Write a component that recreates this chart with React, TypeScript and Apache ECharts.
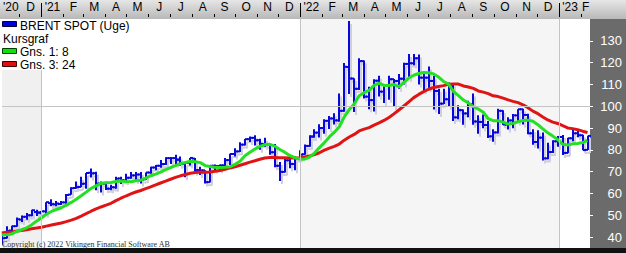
import React, { useEffect, useRef } from "react";
import * as echarts from "echarts";

// Weekly Brent spot bars, one per week (Friday dates), first week ending 2020-11-06
const firstWeek = "2020-11-06";
const open = [
  37.9, 39.6, 43.0, 45.0, 48.0, 49.3, 50.0, 51.5,
  51.2, 51.8, 55.6, 55.0, 55.2, 55.9, 59.5, 62.5, 63.0, 64.5, 69.5, 69.3, 64.5, 64.5, 62.2, 62.8, 66.9, 66.0,
  67.2, 68.3, 68.7, 66.5, 69.6, 71.9, 72.7, 73.5, 76.2, 76.2, 75.5, 73.5, 74.1, 76.0, 70.7, 70.6, 65.2, 72.7,
  72.6, 72.9, 75.3, 78.1, 79.3, 82.4, 84.9, 85.5, 84.4, 82.7, 82.2, 78.9, 72.7, 69.9, 75.2, 73.5, 76.1,
  78.0, 81.8, 86.1, 87.9, 90.0, 93.3, 94.4, 93.5, 97.9, 118.0, 112.7, 108.0, 120.7, 104.4, 102.8, 111.7, 106.7,
  109.3, 112.4, 111.6, 112.6, 119.4, 119.7, 122.0, 113.1, 113.1, 111.6, 107.0, 101.2, 103.2, 110.0, 94.9, 98.2,
  96.7, 100.9, 93.0, 92.8, 91.4, 86.2, 88.0, 97.9, 91.6, 93.5, 95.8, 98.6, 96.0, 87.6, 83.6, 85.6, 76.1, 79.0, 83.9,
  85.9, 78.6, 85.3, 87.6, 86.7, 80.0,
];
const high = [
  41.9, 45.0, 45.2, 49.0, 49.9, 51.0, 52.5, 52.5,
  52.0, 56.0, 57.4, 56.5, 56.6, 59.8, 62.8, 65.5, 67.7, 69.4, 71.4, 70.0, 65.5, 65.4, 64.0, 67.7, 67.7, 69.0,
  69.8, 69.8, 69.8, 69.6, 72.3, 73.1, 75.3, 76.6, 76.6, 77.8, 77.0, 74.1, 76.3, 76.3, 72.3, 70.6, 72.7, 73.3,
  73.3, 76.3, 78.2, 80.7, 83.5, 85.0, 86.1, 86.7, 85.1, 85.5, 82.9, 82.7, 74.4, 76.0, 75.9, 76.9, 79.8,
  82.5, 86.7, 89.5, 91.7, 94.0, 95.5, 96.8, 105.8, 119.8, 139.1, 112.8, 122.0, 121.0, 108.9, 112.4, 114.0, 109.5,
  114.0, 112.5, 114.8, 119.9, 124.0, 124.0, 123.7, 115.0, 118.2, 114.0, 108.0, 108.0, 110.9, 110.5, 100.5, 98.5,
  102.5, 105.8, 95.9, 96.2, 93.2, 89.4, 98.8, 98.2, 95.0, 96.4, 98.6, 98.8, 96.5, 89.5, 89.0, 88.0, 83.3, 84.4, 86.4,
  86.8, 85.5, 89.1, 89.1, 86.9, 86.5,
];
const low = [
  36.6, 39.3, 42.6, 44.8, 46.9, 48.0, 49.6, 49.7,
  50.5, 50.4, 54.3, 54.2, 54.7, 55.3, 59.4, 62.2, 62.9, 62.2, 67.3, 61.5, 60.5, 61.6, 61.5, 62.2, 64.4, 65.2,
  66.8, 65.7, 64.6, 66.2, 69.1, 70.6, 71.8, 73.0, 73.5, 73.3, 72.7, 67.4, 72.8, 69.5, 68.5, 64.6, 65.0, 70.5,
  70.6, 72.1, 73.1, 76.9, 79.0, 82.0, 83.6, 82.0, 80.1, 81.4, 77.8, 72.0, 65.7, 69.6, 71.6, 70.7, 75.9,
  77.7, 81.4, 85.5, 85.7, 87.4, 89.6, 91.6, 92.9, 97.5, 105.6, 97.4, 107.4, 103.5, 98.6, 97.6, 104.5, 101.5,
  103.0, 99.7, 108.0, 110.0, 112.6, 118.8, 110.0, 107.0, 108.0, 98.5, 96.4, 101.0, 99.7, 93.2, 94.0, 91.5,
  95.0, 91.5, 87.4, 89.9, 85.4, 83.7, 87.5, 91.4, 89.3, 89.9, 92.5, 91.6, 87.2, 82.3, 80.6, 75.1, 75.7, 78.6, 81.4,
  77.6, 78.4, 83.9, 85.8, 79.8, 79.9,
];
const close = [
  39.5, 42.8, 45.0, 48.2, 49.3, 50.0, 52.3, 51.3,
  51.8, 56.0, 55.1, 55.4, 55.9, 59.3, 62.4, 62.9, 64.4, 69.4, 69.2, 64.5, 64.6, 62.2, 62.9, 66.8, 66.1, 67.2,
  68.3, 68.7, 66.4, 69.6, 71.9, 72.7, 73.5, 76.2, 76.2, 75.5, 73.6, 74.1, 76.3, 70.7, 70.6, 65.2, 72.7, 72.6,
  72.9, 75.3, 78.1, 79.3, 82.4, 84.9, 85.5, 84.4, 82.7, 82.2, 78.9, 72.7, 69.9, 75.2, 73.5, 76.1, 77.8,
  81.8, 86.1, 87.9, 90.0, 93.3, 94.4, 93.5, 97.9, 118.1, 112.7, 108.0, 120.7, 104.4, 102.8, 111.7, 106.7, 109.3,
  112.4, 111.6, 112.6, 119.4, 119.7, 122.0, 113.1, 113.1, 111.6, 107.0, 101.2, 103.2, 110.0, 94.9, 98.2, 96.7,
  100.9, 93.0, 92.8, 91.4, 86.2, 88.0, 97.9, 91.6, 93.5, 95.8, 98.6, 96.0, 87.6, 83.6, 85.6, 76.1, 79.0, 83.9, 85.9,
  78.6, 85.3, 87.6, 86.7, 79.9, 86.4,
];
// weekly closes before the first bar (used by the moving averages)
const priorCloses = [
  35.3, 42.3, 38.7, 42.2, 41.0, 42.8, 43.2, 43.1, 43.3, 43.3, 44.4, 44.8,
  44.4, 45.8, 42.7, 39.8, 43.2, 41.9, 39.3, 42.9, 42.9, 41.8, 37.5,
];
const maPeriods = [8, 24];
const legendTexts = ["BRENT SPOT (Uge)", "Kursgraf", "Gns. 1: 8", "Gns. 3: 24"];
const monthLabels = [
  "'20", "D",
  "'21", "F", "M", "A", "M", "J", "J", "A", "S", "O", "N", "D",
  "'22", "F", "M", "A", "M", "J", "J", "A", "S", "O", "N", "D",
  "'23", "F",
];
const firstMonth = [2020, 10]; // November 2020 (0-based month)
const yTicks = [40, 50, 60, 70, 80, 90, 100, 110, 120, 130];
const yearLines = ["2021-01-01", "2022-01-01", "2023-01-01"];
const copyright = "Copyright (c) 2022 Vikingen Financial Software AB";

const DAY = 86400000;
const ts = (s: string) => Date.parse(s + "T00:00:00Z");
const xMin = ts("2021-01-01") - 55.45 * DAY;
const xMax = ts("2023-01-01") + 43.5 * DAY;

const NARROW = '"Liberation Sans Narrow", "Arial Narrow", "Liberation Sans", Arial, sans-serif';

export default function App() {
  const ref = useRef<HTMLDivElement>(null);
  useEffect(() => {
    if (!ref.current) return;
    const chart = echarts.init(ref.current, undefined, { renderer: "svg" });

    const dates = open.map((_, i) => ts(firstWeek) + i * 7 * DAY);
    const allCloses = priorCloses.concat(close);
    const off = priorCloses.length;
    const ma = (p: number) =>
      close.map((_, i) => {
        let s = 0;
        for (let k = i + off - p + 1; k <= i + off; k++) s += allCloses[k];
        return [dates[i], +(s / p).toFixed(2)];
      });

    const monthStarts: number[] = [];
    const labelPos: number[] = [];
    for (let i = 0; i < monthLabels.length; i++) {
      const s = Date.UTC(firstMonth[0], firstMonth[1] + i, 1);
      const e = Date.UTC(firstMonth[0], firstMonth[1] + i + 1, 1);
      if (s > xMin) monthStarts.push(s);
      labelPos.push((Math.max(s, xMin) + Math.min(e, xMax)) / 2);
    }
    const labelFor = (v: number) => {
      let best = 0;
      for (let i = 1; i < labelPos.length; i++)
        if (Math.abs(labelPos[i] - v) < Math.abs(labelPos[best] - v)) best = i;
      return monthLabels[best];
    };

    const ohlc = dates.map((t, i) => [t, open[i], high[i], low[i], close[i]]);

    const renderItem = (params: any, api: any) => {
      const t = api.value(0);
      const pO = api.coord([t, api.value(1)]);
      const pH = api.coord([t, api.value(2)]);
      const pL = api.coord([t, api.value(3)]);
      const pC = api.coord([t, api.value(4)]);
      const x = Math.round(pO[0]);
      const mk = (dx: number, dy: number, color: string) => [
        { type: "line", shape: { x1: x + dx, y1: pH[1] + dy, x2: x + dx, y2: pL[1] + dy }, style: { stroke: color, lineWidth: 2 } },
        { type: "line", shape: { x1: x + dx - 3, y1: pO[1] + dy, x2: x + dx, y2: pO[1] + dy }, style: { stroke: color, lineWidth: 2 } },
        { type: "line", shape: { x1: x + dx, y1: pC[1] + dy, x2: x + dx + 3, y2: pC[1] + dy }, style: { stroke: color, lineWidth: 2 } },
      ];
      return { type: "group", children: [...mk(2, 3, "#d0d0dc"), ...mk(0, 0, "#0808dc")] };
    };

    const legendFont = "12px " + NARROW;
    const option: any = {
      animation: false,
      backgroundColor: "#ffffff",
      grid: { left: 0, right: 36, top: 19, bottom: 5, containLabel: false },
      xAxis: [
        { type: "value", min: xMin, max: xMax, show: false },
        {
          type: "value", min: xMin, max: xMax, position: "top", offset: 2, z: 5,
          axisLine: { show: false }, splitLine: { show: false },
          axisTick: { show: true, customValues: monthStarts, length: 3, lineStyle: { color: "#000" } },
          axisLabel: {
            show: true, customValues: labelPos, formatter: (v: number) => labelFor(v),
            color: "#000", fontSize: 12, fontFamily: NARROW, margin: 4,
          },
        },
        {
          type: "value", min: xMin, max: xMax, position: "top", offset: 2, z: 5,
          axisLine: { show: false }, splitLine: { show: false }, axisLabel: { show: false },
          axisTick: { show: true, customValues: yearLines.map(ts), length: 14, lineStyle: { color: "#000" } },
        },
      ],
      yAxis: {
        type: "value", position: "right", min: 35, max: 140, z: 5,
        axisLine: { show: false }, splitLine: { show: false },
        axisTick: { show: true, customValues: yTicks, length: 3, lineStyle: { color: "#fff" } },
        axisLabel: { customValues: yTicks, color: "#fff", fontSize: 13, fontFamily: NARROW, align: "right", margin: 32 },
      },
      series: [
        {
          type: "line", name: "bg", silent: true, z: 1, symbol: "none",
          data: ma(maPeriods[0]), lineStyle: { opacity: 0 },
          markArea: {
            silent: true,
            data: [
              [{ xAxis: xMin, itemStyle: { color: "#f0f0f0", opacity: 1 } }, { xAxis: ts(yearLines[0]) }],
              [{ xAxis: ts(yearLines[1]), itemStyle: { color: "#f5f5f5", opacity: 1 } }, { xAxis: ts(yearLines[2]) }],
            ],
          },
          markLine: {
            silent: true, symbol: ["none", "none"], label: { show: false },
            lineStyle: { color: "#c4c4c4", width: 1, type: "solid" },
            data: [{ yAxis: 100 }, ...yearLines.map((d) => ({ xAxis: ts(d) }))],
          },
        },
        { type: "custom", name: "BRENT SPOT", silent: true, z: 2, clip: true, renderItem, data: ohlc, encode: { x: 0, y: [1, 2, 3, 4] } },
        { type: "line", name: "Gns. 3: 24", silent: true, z: 3, symbol: "none", data: ma(maPeriods[1]), lineStyle: { color: "#e01414", width: 3 } },
        { type: "line", name: "Gns. 1: 8", silent: true, z: 4, symbol: "none", data: ma(maPeriods[0]), lineStyle: { color: "#22e022", width: 3 } },
      ],
      graphic: [
        {
          type: "rect", z: 0, silent: true, shape: { x: 0, y: 0, width: 626, height: 19 },
          style: { fill: new echarts.graphic.LinearGradient(0, 0, 0, 1, [{ offset: 0, color: "#e6e6e6" }, { offset: 1, color: "#b8b8b8" }]) },
        },
        { type: "rect", z: 0, silent: true, shape: { x: 590, y: 19, width: 36, height: 229 }, style: { fill: "#6b6b6b" } },
        { type: "rect", z: 0, silent: true, shape: { x: 0, y: 248, width: 626, height: 5 }, style: { fill: "#111" } },
        { type: "rect", z: 8, silent: true, shape: { x: 0, y: 19, width: 102, height: 51 }, style: { fill: "#fff" } },
        { type: "rect", z: 10, silent: true, shape: { x: 2.5, y: 21.5, width: 14, height: 5 }, style: { fill: "#0000e0", stroke: "#000040", lineWidth: 1 } },
        { type: "text", z: 10, silent: true, x: 20, y: 26, style: { text: legendTexts[0], font: legendFont, fill: "#000", verticalAlign: "middle" } },
        { type: "text", z: 10, silent: true, x: 3, y: 38.8, style: { text: legendTexts[1], font: legendFont, fill: "#000", verticalAlign: "middle" } },
        { type: "rect", z: 10, silent: true, shape: { x: 2.5, y: 48.5, width: 14, height: 5 }, style: { fill: "#10e010", stroke: "#004000", lineWidth: 1 } },
        { type: "text", z: 10, silent: true, x: 20, y: 51.5, style: { text: legendTexts[2], font: legendFont, fill: "#000", verticalAlign: "middle" } },
        { type: "rect", z: 10, silent: true, shape: { x: 2.5, y: 61.5, width: 14, height: 5 }, style: { fill: "#e01010", stroke: "#400000", lineWidth: 1 } },
        { type: "text", z: 10, silent: true, x: 20, y: 64.5, style: { text: legendTexts[3], font: legendFont, fill: "#000", verticalAlign: "middle" } },
        { type: "text", z: 10, silent: true, x: 2, y: 244, style: { text: copyright, font: '8px "Liberation Serif", "Times New Roman", serif', fill: "#303030", verticalAlign: "middle" } },
      ],
    };
    chart.setOption(option);
    return () => chart.dispose();
  }, []);
  return <div ref={ref} style={{ position: "absolute", left: 0, top: 0, width: 626, height: 253 }} />;
}
